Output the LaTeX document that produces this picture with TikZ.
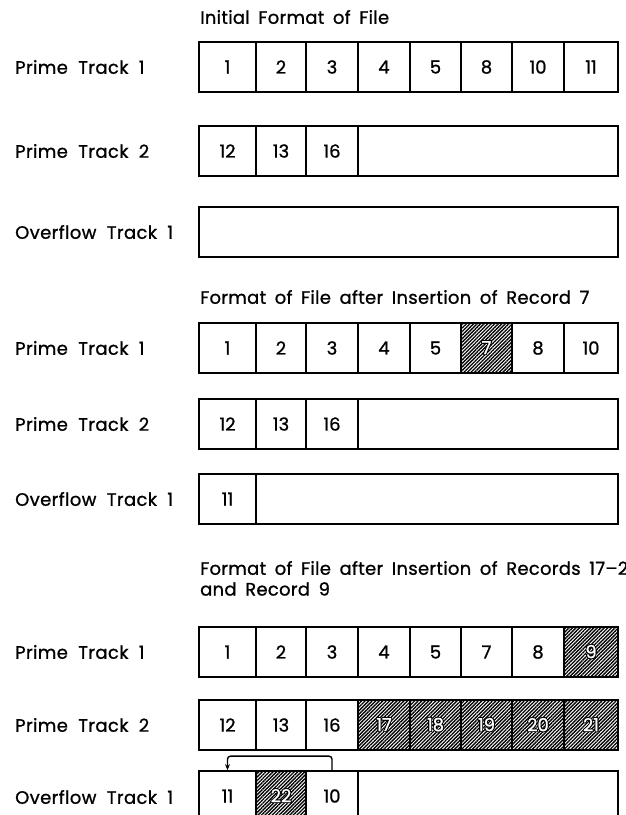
\documentclass[tikz,border=0pt]{standalone}
\usepackage{fontspec}
\setmainfont{Poppins}[FakeBold=1.0, WordSpace=2.0]
\newfontfamily\labfont{Poppins}[FakeBold=1.0, WordSpace=2.0, LetterSpace=2]
\newfontfamily\ttlfont{Poppins}[FakeBold=1.0, WordSpace=1.7, LetterSpace=1.5]
\usepackage[copies]{contour}
\contourlength{0.8pt}
\usetikzlibrary{patterns.meta,arrows.meta}
\def\xs{{199,256,306,358,410,461,512,564,618}}
\tikzset{
  lab/.style={anchor=west, inner sep=0pt, font=\labfont\fontsize{18}{20}\selectfont},
  ttl/.style={anchor=west, inner sep=0pt, font=\ttlfont\fontsize{18}{20}\selectfont},
  wcell/.style={draw, line width=1.7pt, inner sep=0pt, font=\fontsize{18}{20}\selectfont},
  hcell/.style={wcell, pattern={Lines[angle=45,distance=2.5pt,line width=1.35pt]}, text=white},
  trackbox/.style={draw, line width=2.5pt, inner sep=0pt, minimum width=419pt, minimum height=50pt},
  link/.style={line width=1.4pt, -{Stealth[length=6pt,width=5pt]}, rounded corners=3pt}
}
% #1 name prefix, #2 y center, #3 list value/style
\newcommand{\trackrow}[3]{%
  \foreach \v/\s [count=\i] in {#3} {
    \pgfmathsetmacro\xl{\xs[\i-1]}
    \pgfmathsetmacro\xr{\xs[\i]}
    \if\s h
      \node[hcell, minimum width=\xr-\xl, minimum height=50pt] (#1-\i) at ({(\xl+\xr)/2},#2) {\contour{black}{\v}};
    \else
      \node[wcell, minimum width=\xr-\xl, minimum height=50pt] (#1-\i) at ({(\xl+\xr)/2},#2) {\v};
    \fi
  }%
  \node[trackbox] (#1-box) at (408.5,#2) {};%
}
\begin{document}
\begin{tikzpicture}[x=1pt,y=-1pt]
\useasboundingbox (0,0) rectangle (626,815);
\clip (0,0) rectangle (626,815);

% Section 1
\node[ttl] (t1) at (200,17) {Initial Format of File};
\node[lab] (l1a) at (15,67) {Prime Track 1};
\node[lab] (l1b) at (15,151) {Prime Track 2};
\node[lab] (l1c) at (15,232) {Overflow Track 1};
\trackrow{a}{67}{1/w,2/w,3/w,4/w,5/w,8/w,10/w,11/w}
\trackrow{b}{151}{12/w,13/w,16/w}
\trackrow{c}{232}{}

% Section 2
\node[ttl] (t2) at (200,297) {Format of File after Insertion of Record 7};
\node[lab] (l2a) at (15,348) {Prime Track 1};
\node[lab] (l2b) at (15,424) {Prime Track 2};
\node[lab] (l2c) at (15,499) {Overflow Track 1};
\trackrow{d}{348}{1/w,2/w,3/w,4/w,5/w,7/h,8/w,10/w}
\trackrow{e}{424}{12/w,13/w,16/w}
\trackrow{f}{499}{11/w}

% Section 3
\node[ttl] (t3) at (200,568) {Format of File after Insertion of Records 17–21};
\node[ttl] (t3b) at (200,589) {and Record 9};
\node[lab] (l3a) at (15,652) {Prime Track 1};
\node[lab] (l3b) at (15,725) {Prime Track 2};
\node[lab] (l3c) at (15,797) {Overflow Track 1};
\trackrow{g}{652}{1/w,2/w,3/w,4/w,5/w,7/w,8/w,9/h}
\trackrow{h}{725}{12/w,13/w,16/w,17/h,18/h,19/h,20/h,21/h}
\trackrow{k}{796}{11/w,22/h,10/w}

\draw[link] (k-3.north) -- ++(0,-14) -| (k-1.north);
\end{tikzpicture}
\end{document}
